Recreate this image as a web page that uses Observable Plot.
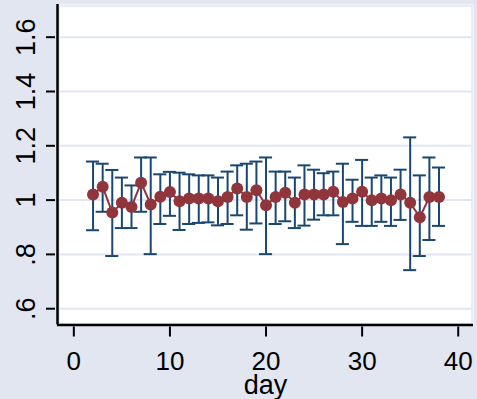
<!DOCTYPE html>
<html>
<head>
<meta charset="utf-8">
<script src="https://cdn.jsdelivr.net/npm/d3@7"></script>
<script src="https://cdn.jsdelivr.net/npm/@observablehq/plot@0.6"></script>
<style>
  html, body { margin: 0; padding: 0; background: #E1E6F0; }
  #chart svg { display: block; }
</style>
</head>
<body>
<div id="chart"></div>
<script>
const days = [2,3,4,5,6,7,8,9,10,11,12,13,14,15,16,17,18,19,20,21,22,23,24,25,26,27,28,29,30,31,32,33,34,35,36,37,38];
const means = [1.021,1.049,0.954,0.990,0.975,1.064,0.984,1.012,1.030,0.996,1.006,1.006,1.006,0.996,1.011,1.043,1.011,1.036,0.981,1.011,1.027,0.990,1.021,1.021,1.021,1.031,0.993,1.006,1.031,0.999,1.006,0.999,1.021,0.990,0.937,1.011,1.011];
const upper = [1.142,1.134,1.111,1.083,1.054,1.157,1.157,1.095,1.104,1.101,1.095,1.091,1.091,1.083,1.105,1.128,1.134,1.142,1.157,1.105,1.105,1.083,1.128,1.112,1.099,1.105,1.134,1.075,1.148,1.083,1.091,1.083,1.112,1.231,1.091,1.157,1.120];
const lower = [0.889,0.957,0.794,0.897,0.897,0.957,0.801,0.912,0.942,0.890,0.912,0.916,0.918,0.907,0.912,0.944,0.891,0.914,0.801,0.912,0.922,0.897,0.906,0.928,0.944,0.944,0.838,0.920,0.905,0.905,0.920,0.905,0.927,0.742,0.794,0.853,0.905];
const xTicks = [0, 10, 20, 30, 40];
const yTicks = [0.6, 0.8, 1.0, 1.2, 1.4, 1.6];
const yTickLabels = [".6", ".8", "1", "1.2", "1.4", "1.6"];
const xLabel = "day";
const xDomain = [-1.70, 41.59];
const yDomain = [0.540, 1.7204];

const data = days.map((d, i) => ({day: d, mean: means[i], lo: lower[i], hi: upper[i]}));

const bg = "#E1E6F0";
const maroon = "#90353B";
const navy = "#1A476F";
const capHalf = 0.68;
const font = "'Liberation Sans', Arial, Helvetica, sans-serif";

const chart = Plot.plot({
  width: 477,
  height: 399,
  marginLeft: 57,
  marginRight: 4,
  marginTop: 4,
  marginBottom: 74.5,
  style: {background: bg, fontFamily: font, overflow: "visible"},
  x: {domain: xDomain},
  y: {domain: yDomain},
  marks: [
    Plot.frame({fill: "white", stroke: "none"}),
    Plot.frame({fill: "none", stroke: bg, strokeWidth: 1.5, inset: 1.5}),
    Plot.ruleY(yTicks, {stroke: bg, strokeWidth: 2, insetRight: 1.5}),
    Plot.ruleX(data, {x: "day", y1: "lo", y2: "hi", stroke: navy, strokeWidth: 2}),
    Plot.ruleY(data, {y: "lo", x1: d => d.day - capHalf, x2: d => d.day + capHalf, stroke: navy, strokeWidth: 2}),
    Plot.ruleY(data, {y: "hi", x1: d => d.day - capHalf, x2: d => d.day + capHalf, stroke: navy, strokeWidth: 2}),
    Plot.line(data, {x: "day", y: "mean", stroke: maroon, strokeWidth: 2}),
    Plot.dot(data, {x: "day", y: "mean", r: 6, fill: maroon, stroke: "none"}),
    Plot.ruleX([xDomain[0]], {stroke: "black", strokeWidth: 2.5}),
    Plot.ruleY([yDomain[0]], {stroke: "black", strokeWidth: 2.5}),
    Plot.axisX(xTicks, {tickSize: 10, dy: 2, text: null, strokeWidth: 2, label: null}),
    Plot.axisY(yTicks, {tickSize: 9, dx: -2, text: null, strokeWidth: 2, label: null}),
    Plot.text(xTicks, {x: d => d, text: d => String(d), frameAnchor: "bottom", dy: 44.5, lineAnchor: "bottom", fontSize: 26, fill: "black"}),
    Plot.text(yTicks, {y: d => d, text: (d, i) => yTickLabels[i], frameAnchor: "left", dx: -31.6, rotate: -90, textAnchor: "middle", lineAnchor: "middle", fontSize: 27, fill: "black"}),
    Plot.text([xLabel], {text: d => d, frameAnchor: "bottom", dy: 68.5, lineAnchor: "bottom", fontSize: 27, fill: "black"})
  ]
});
document.getElementById("chart").appendChild(chart);
</script>
</body>
</html>
